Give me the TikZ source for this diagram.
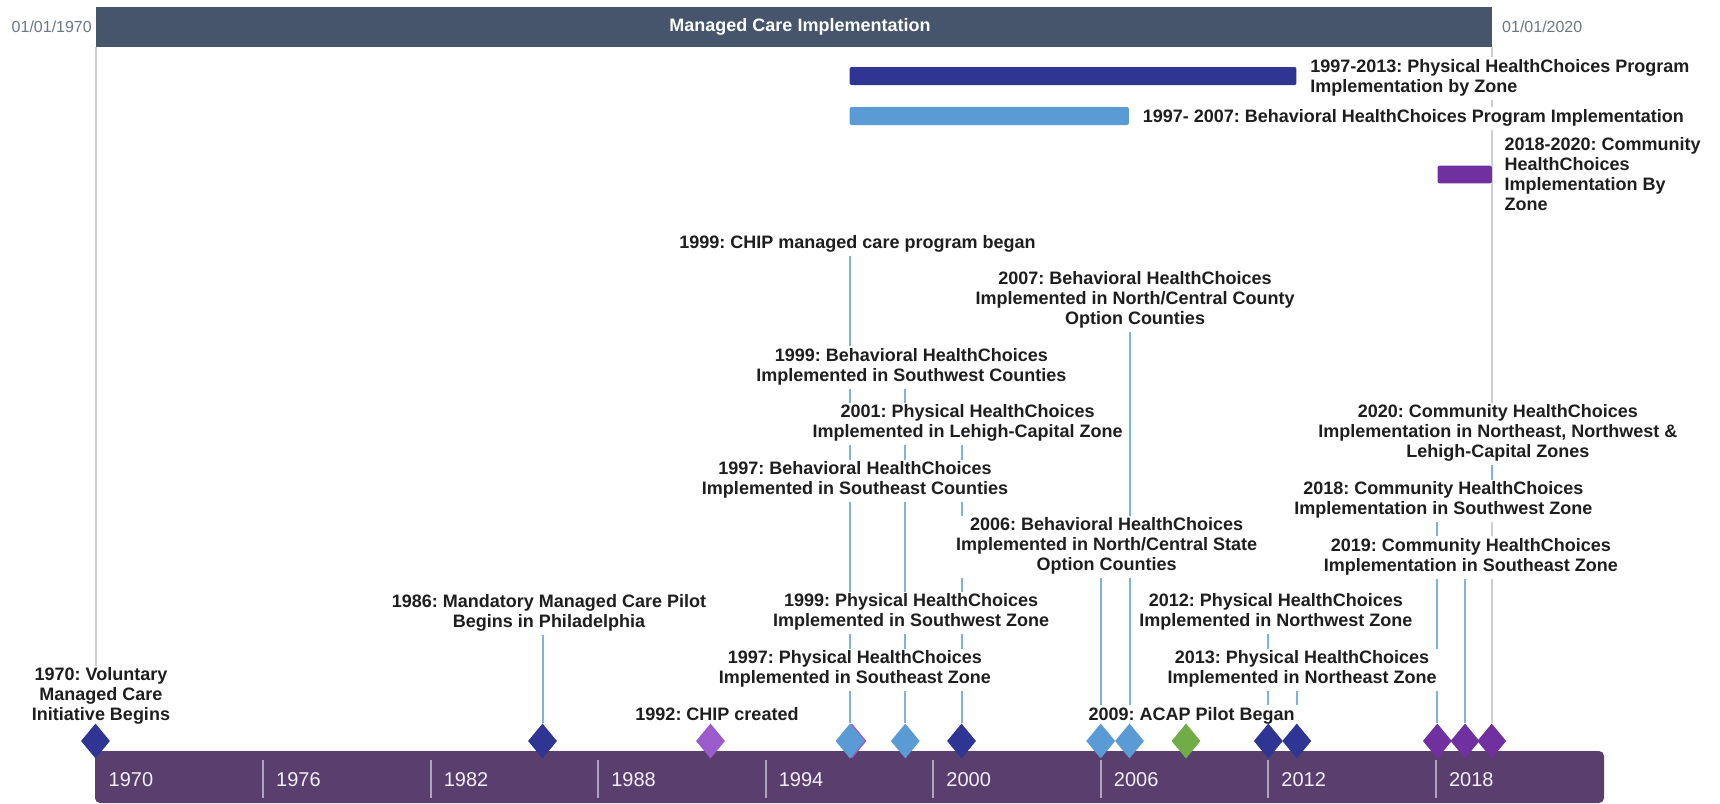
\documentclass[tikz,border=0pt]{standalone}
\usepackage{fontspec}
\setmainfont{Liberation Sans}
\usetikzlibrary{shapes.geometric}
\frenchspacing
\definecolor{topbar}{HTML}{46556B}
\definecolor{dkblue}{HTML}{2E3592}
\definecolor{ltblue}{HTML}{5B9BD5}
\definecolor{cpurple}{HTML}{7030A0}
\definecolor{lavender}{HTML}{9C5BCB}
\definecolor{cgreen}{HTML}{70AD47}
\definecolor{axisbar}{HTML}{5A3F6E}
\definecolor{connc}{HTML}{7EB3E0}
\definecolor{gridc}{HTML}{CFCFCF}
\definecolor{txtc}{HTML}{1E1E1E}
\definecolor{datec}{HTML}{6B7785}
\definecolor{tickc}{HTML}{B0A3BC}
\definecolor{yearc}{HTML}{F2EEF5}
\pgfdeclarelayer{background}
\pgfdeclarelayer{foreground}
\pgfsetlayers{background,main,foreground}
\begin{document}
\begin{tikzpicture}[x=1pt,y=-1pt,
  evlbl/.style={font=\fontsize{18}{20}\selectfont\bfseries, text=txtc, fill=white,
    align=center, inner xsep=3pt, inner ysep=1.5pt,
    execute at begin node=\strut, execute at end node=\strut},
  barlbl/.style={font=\fontsize{18}{20}\selectfont\bfseries, text=txtc, fill=white,
    align=left, inner xsep=0pt, inner ysep=1.5pt, anchor=west,
    execute at begin node=\strut, execute at end node=\strut},
  datelbl/.style={font=\fontsize{16}{18}\selectfont, text=datec, inner sep=0pt},
  yearlbl/.style={font=\fontsize{20}{22}\selectfont, text=yearc, inner sep=0pt, anchor=base west},
  barshape/.style={rounded corners=2pt, inner sep=0pt, minimum height=18pt, anchor=west},
  dia/.style={diamond, minimum width=29pt, minimum height=35pt, inner sep=0pt},
  conn/.style={draw=connc, line width=2pt},
  gridl/.style={draw=gridc, line width=2pt},
  tickl/.style={draw=tickc, line width=2pt}]
\useasboundingbox (0,0) rectangle (1720,803);

% top bar
\node[fill=topbar, minimum width=1396.2pt, minimum height=40pt, inner sep=0pt, anchor=north west] (top) at (95.5,7) {};
\node[font=\fontsize{18}{20}\selectfont\bfseries, text=white, inner sep=0pt] (title) at (800,27) {Managed Care Implementation};
\node[datelbl, anchor=east] (dstart) at (92,27) {01/01/1970};
\node[datelbl, anchor=west] (dend) at (1502,27) {01/01/2020};

% program bars
\node[barshape, fill=dkblue, minimum width=446.8pt] (bar1) at (849.4,76) {};
\node[barshape, fill=ltblue, minimum width=279.3pt] (bar2) at (849.4,116) {};
\node[barshape, fill=cpurple, minimum width=54.4pt, minimum height=17.6pt] (bar3) at (1437.3,174.5) {};
\node[barlbl] (bar1lbl) at ([xshift=13.5pt,yshift=-2.5pt]bar1.east) {1997-2013: Physical HealthChoices Program\\Implementation by Zone};
\node[barlbl] (bar2lbl) at ([xshift=13.5pt,yshift=-2.5pt]bar2.east) {1997- 2007: Behavioral HealthChoices Program Implementation};
\node[barlbl] (bar3lbl) at ([xshift=12.3pt,yshift=-2.5pt]bar3.east) {2018-2020: Community\\HealthChoices\\Implementation By\\Zone};

% event labels
\node[evlbl] (l70) at (101,696.8) {1970: Voluntary\\Managed Care\\Initiative Begins};
\node[evlbl] (l86) at (549,613.5) {1986: Mandatory Managed Care Pilot\\Begins in Philadelphia};
\node[evlbl] (l92) at (717,716.5) {1992: CHIP created};
\node[evlbl] (lchip) at (857.5,244.2) {1999: CHIP managed care program began};
\node[evlbl] (l07) at (1135,300.8) {2007: Behavioral HealthChoices\\Implemented in North/Central County\\Option Counties};
\node[evlbl] (l99b) at (911.3,367.5) {1999: Behavioral HealthChoices\\Implemented in Southwest Counties};
\node[evlbl] (l01) at (967.7,424.2) {2001: Physical HealthChoices\\Implemented in Lehigh-Capital Zone};
\node[evlbl] (l97b) at (855,480.8) {1997: Behavioral HealthChoices\\Implemented in Southeast Counties};
\node[evlbl] (l06) at (1106.7,546.6) {2006: Behavioral HealthChoices\\Implemented in North/Central State\\Option Counties};
\node[evlbl] (l99p) at (911.2,613.3) {1999: Physical HealthChoices\\Implemented in Southwest Zone};
\node[evlbl] (l97p) at (854.8,669.8) {1997: Physical HealthChoices\\Implemented in Southeast Zone};
\node[evlbl] (l12) at (1275.8,613.2) {2012: Physical HealthChoices\\Implemented in Northwest Zone};
\node[evlbl] (l13) at (1302,669.8) {2013: Physical HealthChoices\\Implemented in Northeast Zone};
\node[evlbl] (l09) at (1191.7,716.5) {2009: ACAP Pilot Began};
\node[evlbl] (l20) at (1497.8,434.2) {2020: Community HealthChoices\\Implementation in Northeast, Northwest \&\\Lehigh-Capital Zones};
\node[evlbl] (l18) at (1443.3,500.8) {2018: Community HealthChoices\\Implementation in Southwest Zone};
\node[evlbl] (l19) at (1470.8,557.5) {2019: Community HealthChoices\\Implementation in Southeast Zone};

% bottom axis
\fill[axisbar, rounded corners=5pt] (95,803) -- (95,751) -- (1604,751) -- (1604,803) -- cycle;
\foreach \k in {1,...,8}
  \draw[tickl] ({95.5+167.54*\k},760) -- ({95.5+167.54*\k},798);
\foreach \k/\yr in {0/1970,1/1976,2/1982,3/1988,4/1994,5/2000,6/2006,7/2012,8/2018}
  \node[yearlbl] (yr\k) at ({108.5+167.54*\k},786) {\yr};

% diamonds
\begin{pgfonlayer}{foreground}
\node[dia, fill=dkblue] (d70) at (95.5,741) {};
\node[dia, fill=dkblue] (d86) at (542.5,741) {};
\node[dia, fill=lavender] (d92) at (710.5,741) {};
\node[dia, fill=lavender] (d97c) at (852,741) {};
\node[dia, fill=ltblue] (d97) at (850,741) {};
\node[dia, fill=ltblue] (d99) at (905.3,741) {};
\node[dia, fill=dkblue] (d01) at (961.5,741) {};
\node[dia, fill=ltblue] (d06) at (1100.7,741) {};
\node[dia, fill=ltblue] (d07) at (1129.5,741) {};
\node[dia, fill=cgreen] (d09) at (1186,741) {};
\node[dia, fill=dkblue] (d12) at (1268.3,741) {};
\node[dia, fill=dkblue] (d13) at (1296.8,741) {};
\node[dia, fill=cpurple] (d18) at (1437.3,741) {};
\node[dia, fill=cpurple] (d19) at (1465,741) {};
\node[dia, fill=cpurple] (d20) at (1491.7,741) {};
\end{pgfonlayer}

% connectors
\begin{pgfonlayer}{background}
\draw[conn] (d86.north |- l86.south) -- (d86.north);
\draw[conn] (d97.north |- lchip.south) -- (d97.north);
\draw[conn] (d97.north |- l97b.south) -- (d97.north);
\draw[conn] (d97.north |- l97p.south) -- (d97.north);
\draw[conn] (d07.north |- l07.south) -- (d07.north);
\draw[conn] (d99.north |- l99b.south) -- (d99.north);
\draw[conn] (d99.north |- l99p.south) -- (d99.north);
\draw[conn] (d01.north |- l01.south) -- (d01.north);
\draw[conn] (d06.north |- l06.south) -- (d06.north);
\draw[conn] (d12.north |- l12.south) -- (d12.north);
\draw[conn] (d13.north |- l13.south) -- (d13.north);
\draw[conn] (d18.north |- l18.south) -- (d18.north);
\draw[conn] (d19.north |- l19.south) -- (d19.north);
\draw[conn] (d20.north |- l20.south) -- (d20.north |- l18.north);
\draw[gridl] (d70.center |- top.south) -- (d70.center |- l70.north);
\draw[gridl] (d20.north |- top.south) -- (d20.north |- l20.north);
\draw[gridl] (d20.north |- l18.north) -- (d20.north);
\end{pgfonlayer}
\end{tikzpicture}
\end{document}
